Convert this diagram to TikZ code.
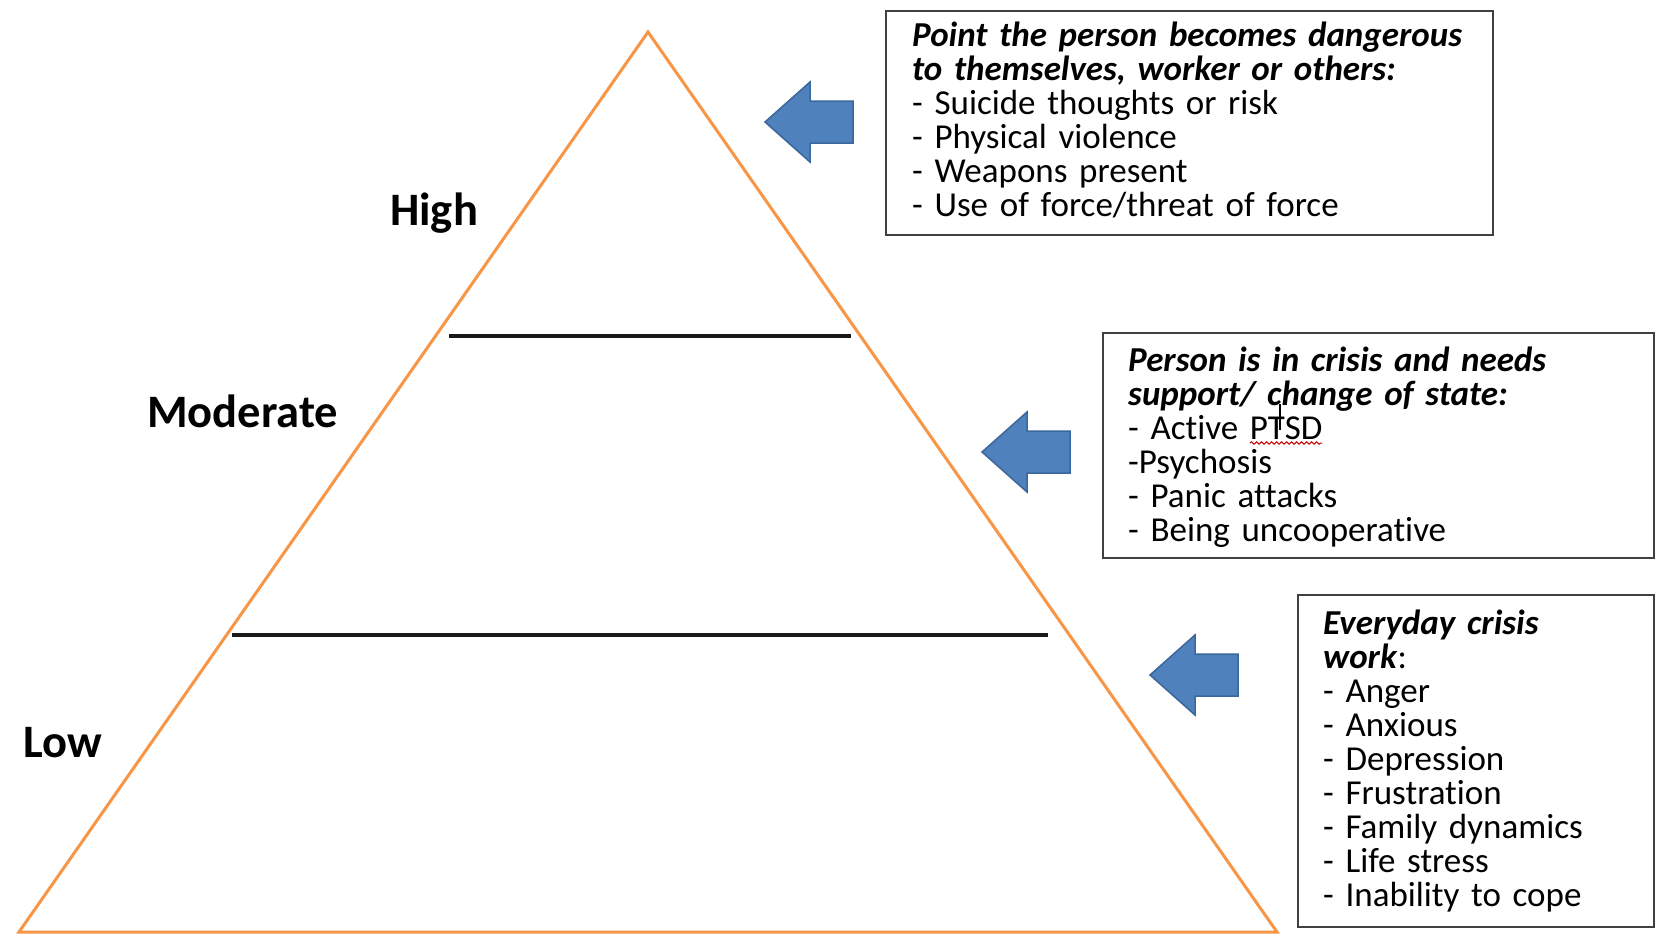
\documentclass[tikz,border=0pt]{standalone}
\usepackage{fontspec}
\setmainfont[Ligatures=NoCommon]{Carlito}
\usetikzlibrary{decorations.pathmorphing}
\definecolor{triorange}{HTML}{F79646}
\definecolor{arrowblue}{HTML}{4F81BD}
\definecolor{arrowedge}{HTML}{3A679C}
\begin{document}
\lineskiplimit=-100pt
\lineskip=0pt
\begin{tikzpicture}[x=1pt,y=-1pt,
  tri/.style={draw=triorange, line width=3pt, line join=miter},
  level/.style={draw=black!90, line width=4pt},
  lvl/.style={font=\fontsize{46.5}{54}\selectfont\bfseries, anchor=base west, inner sep=0pt},
  infobox/.style={draw=black!75, line width=2pt, fill=white, anchor=north west, inner sep=0pt},
  infotext/.style={font=\fontsize{35}{34}\selectfont, anchor=base west, inner sep=0pt, align=left, text=black},
  bluearrow/.pic={\filldraw[fill=arrowblue, draw=arrowedge, line width=1.5pt, line join=miter]
     (0,0) -- (45,-40) -- (45,-21) -- (88,-21) -- (88,21) -- (45,21) -- (45,40) -- cycle;}
]
\useasboundingbox (0,0) rectangle (1655,934);
\fill[white] (0,0) rectangle (1655,934);

% pyramid
\coordinate (apex) at (648,32);
\coordinate (bl) at (19,932);
\coordinate (br) at (1277,932);
\draw[tri] (apex) -- (bl) -- (br) -- cycle;

\coordinate (l1a) at (449,336);
\coordinate (l1b) at (851,336);
\coordinate (l2a) at (232,635);
\coordinate (l2b) at (1048,635);
\draw[level] (l1a) -- (l1b);
\draw[level] (l2a) -- (l2b);

\node[lvl] (high) at (390,225) {High};
\node[lvl] (moderate) at (147,427) {Moderate};
\node[lvl] (low) at (23,757) {Low};

% arrows
\pic at (765,122) {bluearrow};
\pic at (982,452) {bluearrow};
\pic at (1150,675) {bluearrow};

% boxes
\node[infobox, minimum width=607pt, minimum height=224pt] (box1) at (885,10) {};
\node[infobox, minimum width=551pt, minimum height=225pt] (box2) at (1102,332) {};
\node[infobox, minimum width=356pt, minimum height=332pt] (box3) at (1297,594) {};

\node[infotext, text width=575pt] (t1) at (912,47)
 {\textbf{\textit{Point the person becomes dangerous\\to themselves, worker or others:}}\\
  - Suicide thoughts or risk\\
  - Physical violence\\
  - Weapons present\\
  - Use of force/threat of force};

\node[infotext, text width=520pt] (t2) at (1128,371)
 {\textbf{\textit{Person is in crisis and needs\\support/ change of state:}}\\
  - Active PTSD\\
  -Psychosis\\
  - Panic attacks\\
  - Being uncooperative};

\node[infotext, text width=325pt] (t3) at (1323,634)
 {\textbf{\textit{Everyday crisis\\work}}:\\
  - Anger\\
  - Anxious\\
  - Depression\\
  - Frustration\\
  - Family dynamics\\
  - Life stress\\
  - Inability to cope};

% spell-check squiggle and text cursor
\coordinate (sqa) at (1250,443);
\coordinate (sqb) at (1322,443);
\draw[red!80!black, line width=1pt, decorate, decoration={snake, amplitude=1.2pt, segment length=5pt}] (sqa) -- (sqb);
\coordinate (cura) at (1280,404);
\coordinate (curb) at (1280,430);
\draw[black, line width=1.5pt] (cura) -- (curb);
\end{tikzpicture}
\end{document}
